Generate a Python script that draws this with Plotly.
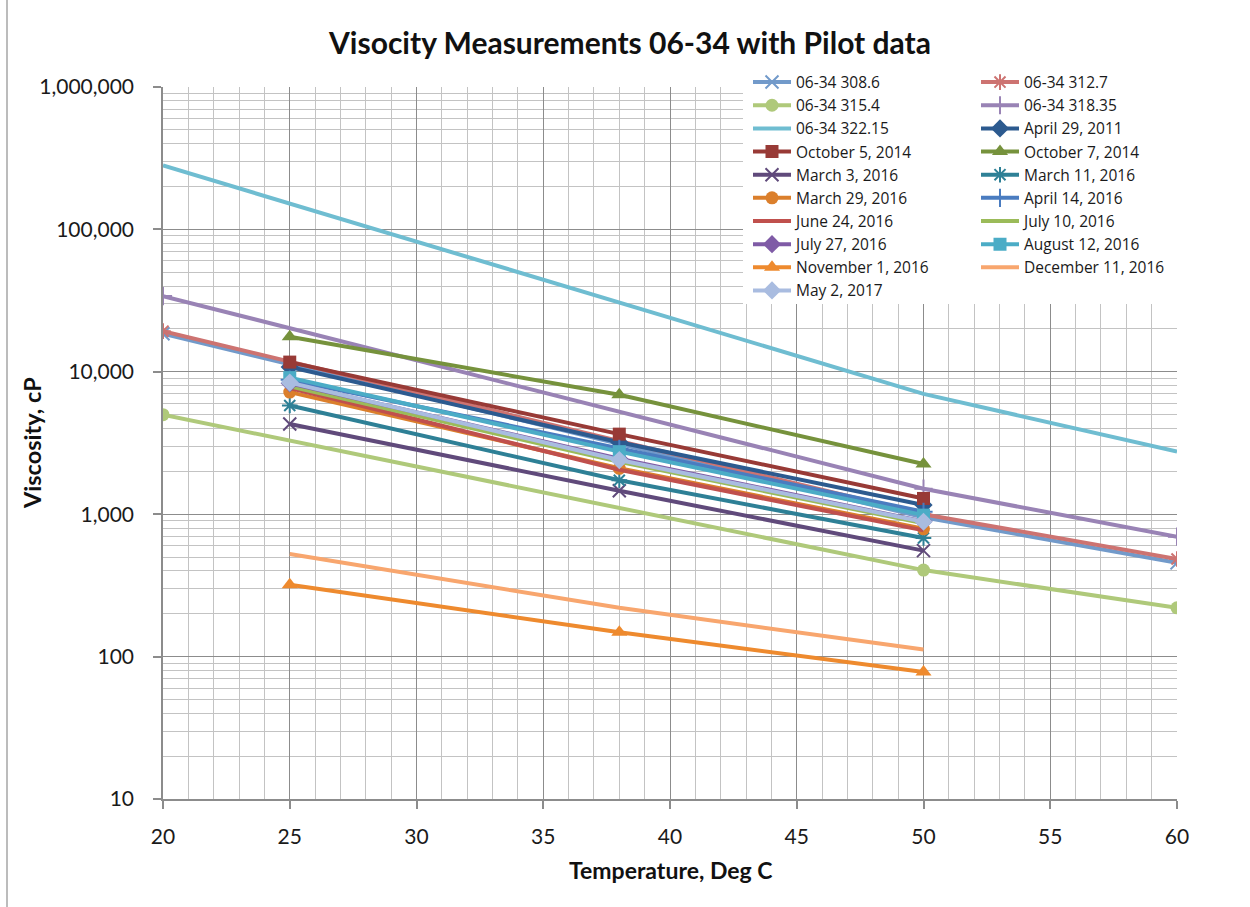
import plotly.graph_objects as go

# ---- data ----
x_model = [20, 50, 60]
v_308_6 = [18500, 950, 455]
v_312_7 = [19300, 1000, 485]
v_315_4 = [5000, 405, 220]
v_318_35 = [34000, 1510, 695]
v_322_15 = [281000, 7000, 2750]

x_pilot = [25, 38, 50]
apr_29_2011 = [10800, 3200, 1160]
oct_5_2014 = [11700, 3650, 1290]
oct_7_2014 = [17600, 6900, 2250]
mar_3_2016 = [4300, 1460, 555]
mar_11_2016 = [5800, 1730, 680]
mar_29_2016 = [7200, 2100, 790]
apr_14_2016 = [8800, 2880, 1040]
jun_24_2016 = [7700, 2050, 770]
jul_10_2016 = [7900, 2330, 865]
jul_27_2016 = [8300, 2450, 890]
aug_12_2016 = [9100, 2750, 985]
nov_1_2016 = [320, 148, 78]
dec_11_2016 = [525, 220, 112]
may_2_2017 = [8400, 2400, 885]

y_tick_vals = [10, 100, 1000, 10000, 100000, 1000000]
y_tick_text = ["10", "100", "1,000", "10,000", "100,000", "1,000,000"]

series = [
    ("06-34 308.6", x_model, v_308_6, "#729ACA", "x-thin"),
    ("06-34 312.7", x_model, v_312_7, "#CD7371", "asterisk"),
    ("06-34 315.4", x_model, v_315_4, "#AFC97A", "circle"),
    ("06-34 318.35", x_model, v_318_35, "#9983B5", "cross-thin"),
    ("06-34 322.15", x_model, v_322_15, "#6FBDD1", None),
    ("April 29, 2011", x_pilot, apr_29_2011, "#2C5A8F", "diamond"),
    ("October 5, 2014", x_pilot, oct_5_2014, "#983A36", "square"),
    ("October 7, 2014", x_pilot, oct_7_2014, "#76923C", "triangle-up"),
    ("March 3, 2016", x_pilot, mar_3_2016, "#604A7B", "x-thin"),
    ("March 11, 2016", x_pilot, mar_11_2016, "#2E8096", "asterisk"),
    ("March 29, 2016", x_pilot, mar_29_2016, "#DB7F2C", "circle"),
    ("April 14, 2016", x_pilot, apr_14_2016, "#4A7CC0", "cross-thin"),
    ("June 24, 2016", x_pilot, jun_24_2016, "#C0504D", None),
    ("July 10, 2016", x_pilot, jul_10_2016, "#9BBB59", None),
    ("July 27, 2016", x_pilot, jul_27_2016, "#7F5BA6", "diamond"),
    ("August 12, 2016", x_pilot, aug_12_2016, "#4BACC6", "square"),
    ("November 1, 2016", x_pilot, nov_1_2016, "#EE8A2E", "triangle-up"),
    ("December 11, 2016", x_pilot, dec_11_2016, "#F8A66E", None),
    ("May 2, 2017", x_pilot, may_2_2017, "#A9BCE0", "diamond"),
]

FONT = "Lato, 'Open Sans', sans-serif"
LEG_FONT = "'Open Sans', Lato, sans-serif"

fig = go.Figure()
for i, (name, xs, ys, col, sym) in enumerate(series):
    thin = sym in ("x-thin", "asterisk", "cross-thin")
    if sym is None:
        mode = "lines"
        marker = dict()
    else:
        mode = "lines+markers"
        size = {"circle": 13, "square": 13, "diamond": 14, "triangle-up": 14}.get(sym, 13)
        marker = dict(symbol=sym, size=size, color=col,
                      line=dict(color=col, width=2 if thin else 0))
    fig.add_trace(go.Scatter(
        x=xs, y=ys, name=name, mode=mode,
        line=dict(color=col, width=4),
        marker=marker,
        legend="legend" if i % 2 == 0 else "legend2",
        hoverinfo="skip",
    ))

W, H = 1250, 907
L, R, T, B = 163, 1177, 87, 799

def px_x(p):
    return (p - L) / (R - L)

def px_y(p):
    return (B - p) / (B - T)

grid_major = "#8C8C8C"
grid_minor = "#C3C3C3"

leg_common = dict(xanchor="left", yanchor="top", bgcolor="rgba(0,0,0,0)",
                  font=dict(family=LEG_FONT, size=15.5, color="#1a1a1a"),
                  tracegroupgap=0, traceorder="normal", itemwidth=38)

fig.update_layout(
    width=W, height=H,
    margin=dict(l=L, r=W - R, t=T, b=H - B),
    paper_bgcolor="white", plot_bgcolor="white",
    font=dict(family=FONT, size=21, color="#1a1a1a"),
    title=dict(text="<b>Visocity Measurements 06-34 with Pilot data</b>",
               x=px_x(630), xref="paper", xanchor="center",
               y=1 - 43 / H, yref="container", yanchor="middle",
               font=dict(family=FONT, size=30, color="#111111")),
    showlegend=True,
    legend=dict(x=px_x(748), y=px_y(65.5), **leg_common),
    legend2=dict(x=px_x(976), y=px_y(65.5), **leg_common),
    shapes=[
        dict(type="rect", xref="paper", yref="paper", layer="above",
             x0=px_x(743), x1=px_x(1190), y0=px_y(304), y1=px_y(60),
             fillcolor="white", line=dict(width=0)),
        dict(type="line", xref="paper", yref="paper", layer="above",
             x0=px_x(7), x1=px_x(7), y0=px_y(0), y1=px_y(H),
             line=dict(color="#A6A6A6", width=1.5)),
    ],
    annotations=[
        dict(text="<b>Viscosity, cP</b>", xref="paper", yref="paper",
             x=px_x(32), y=px_y(443), xanchor="center", yanchor="middle",
             textangle=-90, showarrow=False,
             font=dict(family=FONT, size=23.5, color="#111111")),
        dict(text="<b>Temperature, Deg C</b>", xref="paper", yref="paper",
             x=px_x(670), y=px_y(870), xanchor="center", yanchor="middle",
             showarrow=False,
             font=dict(family=FONT, size=23, color="#111111")),
    ],
)

fig.update_xaxes(
    range=[20, 60], dtick=5, tick0=20,
    showgrid=True, gridcolor=grid_major, gridwidth=1,
    minor=dict(dtick=1, showgrid=True, gridcolor=grid_minor, gridwidth=1),
    showline=True, linecolor=grid_major, linewidth=1.5,
    ticks="outside", ticklen=8, tickcolor=grid_major, tickwidth=1.5,
    ticklabelstandoff=10, zeroline=False,
    tickfont=dict(family=FONT, size=21, color="#1a1a1a"),
)
fig.update_yaxes(
    type="log", range=[1, 6],
    tickvals=y_tick_vals, ticktext=y_tick_text,
    showgrid=True, gridcolor=grid_major, gridwidth=1,
    minor=dict(dtick="D1", showgrid=True, gridcolor=grid_minor, gridwidth=1),
    showline=True, linecolor=grid_major, linewidth=1.5,
    ticks="outside", ticklen=8, tickcolor=grid_major, tickwidth=1.5,
    ticklabelstandoff=15, zeroline=False,
    tickfont=dict(family=FONT, size=21, color="#1a1a1a"),
)

fig.write_html("out.html")
